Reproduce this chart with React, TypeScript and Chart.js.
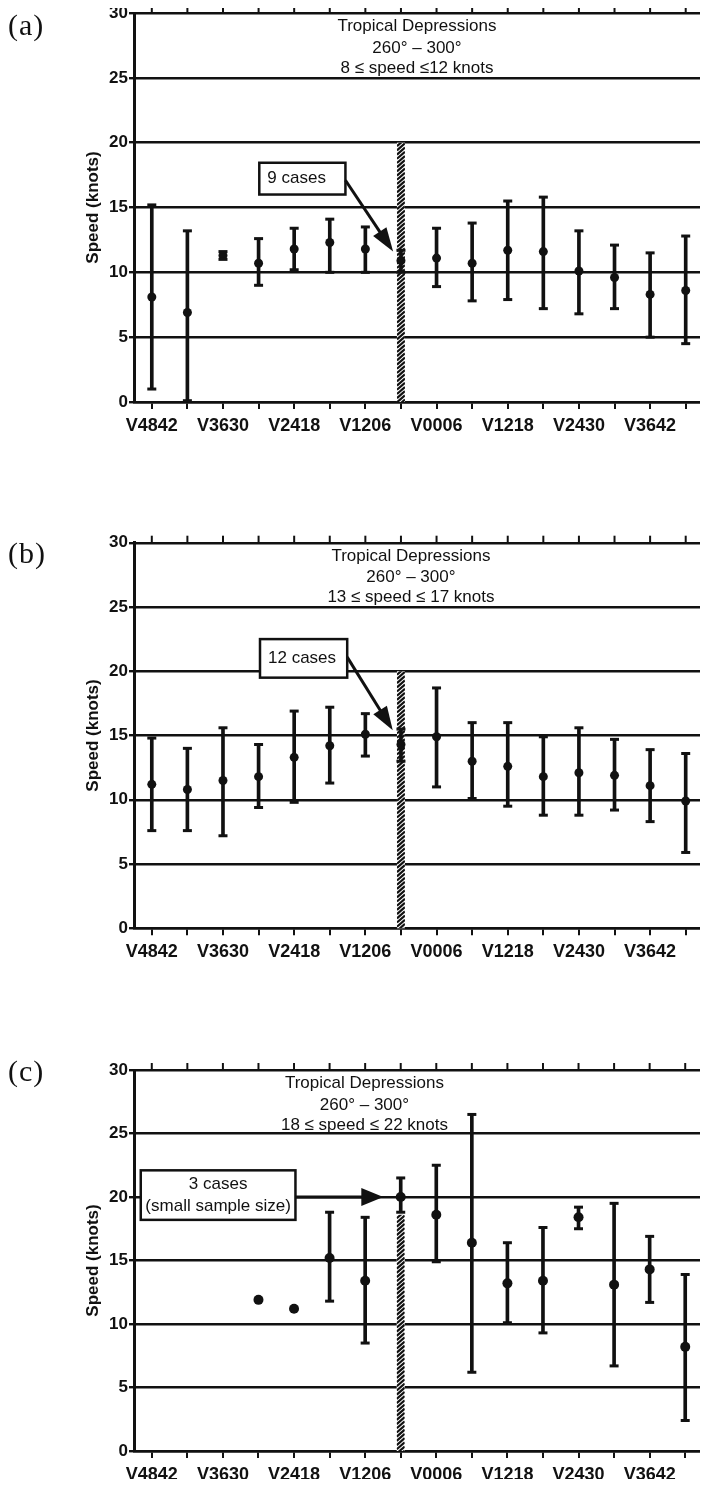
import React, { useEffect, useRef } from 'react';
import { Chart, registerables } from 'chart.js';

Chart.register(...registerables);

const FONT = '"Liberation Sans", Arial, Helvetica, sans-serif';
const SERIF = '"Liberation Serif", "Times New Roman", serif';
const INK = '#111';

// ---------- data ----------
const categories = [
  'V4842', 'V4236', 'V3630', 'V3024', 'V2418', 'V1812', 'V1206', 'V0600',
  'V0006', 'V0612', 'V1218', 'V1824', 'V2430', 'V3036', 'V3642', 'V4248',
];
const yTickValues = [0, 5, 10, 15, 20, 25, 30];
const yAxisTitle = 'Speed (knots)';
const titleLine1 = 'Tropical Depressions';
const titleLine2 = '260° – 300°';

// panel (a): 8 <= speed <= 12 knots
const meanA = [8.1, 6.9, 11.3, 10.7, 11.8, 12.3, 11.8, 10.9, 11.1, 10.7, 11.7, 11.6, 10.1, 9.6, 8.3, 8.6];
const highA = [15.2, 13.2, 11.6, 12.6, 13.4, 14.1, 13.5, 11.7, 13.4, 13.8, 15.5, 15.8, 13.2, 12.1, 11.5, 12.8];
const lowA = [1.0, 0.1, 11.0, 9.0, 10.2, 10.0, 10.0, 10.0, 8.9, 7.8, 7.9, 7.2, 6.8, 7.2, 5.0, 4.5];
const rangeA = '8 ≤ speed ≤12 knots';
const casesA = ['9 cases'];
const hatchTopA = 20;

// panel (b): 13 <= speed <= 17 knots
const meanB = [11.2, 10.8, 11.5, 11.8, 13.3, 14.2, 15.1, 14.3, 14.9, 13.0, 12.6, 11.8, 12.1, 11.9, 11.1, 9.9];
const highB = [14.8, 14.0, 15.6, 14.3, 16.9, 17.2, 16.7, 15.5, 18.7, 16.0, 16.0, 14.9, 15.6, 14.7, 13.9, 13.6];
const lowB = [7.6, 7.6, 7.2, 9.4, 9.8, 11.3, 13.4, 13.0, 11.0, 10.1, 9.5, 8.8, 8.8, 9.2, 8.3, 5.9];
const rangeB = '13 ≤ speed ≤ 17 knots';
const casesB = ['12 cases'];
const hatchTopB = 20;

// panel (c): 18 <= speed <= 22 knots
const meanC = [null, null, null, 11.9, 11.2, 15.2, 13.4, 20.0, 18.6, 16.4, 13.2, 13.4, 18.4, 13.1, 14.3, 8.2];
const highC = [null, null, null, null, null, 18.8, 18.4, 21.5, 22.5, 26.5, 16.4, 17.6, 19.2, 19.5, 16.9, 13.9];
const lowC = [null, null, null, null, null, 11.8, 8.5, 18.8, 14.9, 6.2, 10.1, 9.3, 17.5, 6.7, 11.7, 2.4];
const rangeC = '18 ≤ speed ≤ 22 knots';
const casesC = ['3 cases', '(small sample size)'];
const hatchTopC = 18.6;

const zeroHourIndex = 7;

type Num = number | null;
type Panel = {
  letter: string;
  letterBaseline: number;
  pageTop: number;
  height: number;
  top: number;
  bottom: number;
  mean: Num[];
  high: Num[];
  low: Num[];
  range: string;
  cases: string[];
  hatchTop: number;
  pointR: number;
  titleAt: number;
  box: { x0: number; x1: number; y0: number; y1: number; align: 'left' | 'center' };
  arrow: { from: [number, number]; to: [number, number]; len: number; half: number };
};

const panels: Panel[] = [
  {
    letter: '(a)', letterBaseline: 35, pageTop: 0, height: 470, top: 13, bottom: 402,
    mean: meanA, high: highA, low: lowA, range: rangeA, cases: casesA, hatchTop: hatchTopA, pointR: 4.5,
    titleAt: 7.45,
    box: { x0: 3.02, x1: 5.44, y0: 18.45, y1: 16.0, align: 'left' },
    arrow: { from: [5.44, 17.1], to: [6.78, 11.6], len: 24, half: 8 },
  },
  {
    letter: '(b)', letterBaseline: 563, pageTop: 520, height: 470, top: 22.7, bottom: 408.3,
    mean: meanB, high: highB, low: lowB, range: rangeB, cases: casesB, hatchTop: hatchTopB, pointR: 4.5,
    titleAt: 7.28,
    box: { x0: 3.04, x1: 5.49, y0: 22.5, y1: 19.5, align: 'left' },
    arrow: { from: [5.49, 21.1], to: [6.77, 15.4], len: 24, half: 8 },
  },
  {
    letter: '(c)', letterBaseline: 1081, pageTop: 1050, height: 437, top: 20, bottom: 401,
    mean: meanC, high: highC, low: lowC, range: rangeC, cases: casesC, hatchTop: hatchTopC, pointR: 5,
    titleAt: 5.98,
    box: { x0: -0.31, x1: 4.04, y0: 22.1, y1: 18.2, align: 'center' },
    arrow: { from: [4.04, 20], to: [6.51, 20], len: 22, half: 9 },
  },
];

function makeDecor(p: Panel) {
  return {
    id: 'decor',
    beforeDatasetsDraw(chart: any) {
      const ctx: CanvasRenderingContext2D = chart.ctx;
      const xs = chart.scales.x;
      const ys = chart.scales.y;
      const cx = xs.getPixelForValue(zeroHourIndex);
      const t = ys.getPixelForValue(p.hatchTop);
      const b = ys.getPixelForValue(0);
      ctx.save();
      ctx.fillStyle = '#fff';
      ctx.fillRect(cx - 4, t, 8, b - t);
      ctx.beginPath();
      ctx.rect(cx - 4, t, 8, b - t);
      ctx.clip();
      ctx.strokeStyle = INK;
      ctx.lineWidth = 2.2;
      for (let yy = t; yy < b + 8; yy += 4.2) {
        ctx.beginPath();
        ctx.moveTo(cx - 4, yy + 3.5);
        ctx.lineTo(cx + 4, yy - 3.5);
        ctx.stroke();
      }
      ctx.restore();
    },
    afterDatasetsDraw(chart: any) {
      const ctx: CanvasRenderingContext2D = chart.ctx;
      const xs = chart.scales.x;
      const ys = chart.scales.y;
      const area = chart.chartArea;
      ctx.save();
      // error bar caps
      ctx.strokeStyle = INK;
      ctx.lineWidth = 3;
      for (let i = 0; i < categories.length; i++) {
        const lo = p.low[i];
        const hi = p.high[i];
        if (lo == null || hi == null) continue;
        const x = xs.getPixelForValue(i);
        for (const v of [lo, hi]) {
          const y = ys.getPixelForValue(v);
          ctx.beginPath();
          ctx.moveTo(x - 4.5, y);
          ctx.lineTo(x + 4.5, y);
          ctx.stroke();
        }
      }
      // top ticks
      ctx.lineWidth = 2;
      for (let i = 0; i < categories.length; i++) {
        const x = xs.getPixelForValue(i);
        ctx.beginPath();
        ctx.moveTo(x, area.top);
        ctx.lineTo(x, area.top - 7);
        ctx.stroke();
      }
      // panel title
      ctx.fillStyle = INK;
      ctx.font = `17px ${FONT}`;
      ctx.textAlign = 'center';
      ctx.textBaseline = 'middle';
      const tx = xs.getPixelForValue(p.titleAt);
      [titleLine1, titleLine2, p.range].forEach((s, k) => {
        ctx.fillText(s, tx, area.top + [13.5, 35, 55][k]);
      });
      // annotation box
      const bx0 = xs.getPixelForValue(p.box.x0);
      const bx1 = xs.getPixelForValue(p.box.x1);
      const by0 = ys.getPixelForValue(p.box.y0);
      const by1 = ys.getPixelForValue(p.box.y1);
      ctx.fillStyle = '#fff';
      ctx.fillRect(bx0, by0, bx1 - bx0, by1 - by0);
      ctx.strokeStyle = INK;
      ctx.lineWidth = 2.5;
      ctx.strokeRect(bx0, by0, bx1 - bx0, by1 - by0);
      ctx.fillStyle = INK;
      ctx.font = `17px ${FONT}`;
      const n = p.cases.length;
      const midY = (by0 + by1) / 2;
      p.cases.forEach((s, k) => {
        const y = midY + (k - (n - 1) / 2) * 22;
        if (p.box.align === 'left') {
          ctx.textAlign = 'left';
          ctx.fillText(s, bx0 + 8, y);
        } else {
          ctx.textAlign = 'center';
          ctx.fillText(s, (bx0 + bx1) / 2, y);
        }
      });
      // arrow
      const ax0 = xs.getPixelForValue(p.arrow.from[0]);
      const ay0 = ys.getPixelForValue(p.arrow.from[1]);
      const ax1 = xs.getPixelForValue(p.arrow.to[0]);
      const ay1 = ys.getPixelForValue(p.arrow.to[1]);
      const ang = Math.atan2(ay1 - ay0, ax1 - ax0);
      const bxh = ax1 - Math.cos(ang) * p.arrow.len;
      const byh = ay1 - Math.sin(ang) * p.arrow.len;
      ctx.lineWidth = 3;
      ctx.beginPath();
      ctx.moveTo(ax0, ay0);
      ctx.lineTo(bxh + Math.cos(ang) * 2, byh + Math.sin(ang) * 2);
      ctx.stroke();
      ctx.beginPath();
      ctx.moveTo(ax1, ay1);
      ctx.lineTo(bxh - Math.sin(ang) * p.arrow.half, byh + Math.cos(ang) * p.arrow.half);
      ctx.lineTo(bxh + Math.sin(ang) * p.arrow.half, byh - Math.cos(ang) * p.arrow.half);
      ctx.closePath();
      ctx.fill();
      ctx.restore();
    },
  };
}

function PanelChart({ p }: { p: Panel }) {
  const ref = useRef<HTMLCanvasElement>(null);
  useEffect(() => {
    const canvas = ref.current;
    if (!canvas) return;
    const whiskers = p.low.map((lo, i) => {
      const hi = p.high[i];
      return lo == null || hi == null ? null : [lo, hi];
    });
    const chart = new Chart(canvas, {
      type: 'bar',
      data: {
        labels: categories,
        datasets: [
          {
            type: 'line',
            data: p.mean as any,
            showLine: false,
            pointRadius: p.pointR,
            pointHoverRadius: p.pointR,
            pointBackgroundColor: INK,
            pointBorderColor: INK,
            pointBorderWidth: 0,
            borderColor: INK,
          } as any,
          {
            type: 'bar',
            data: whiskers as any,
            backgroundColor: INK,
            borderWidth: 0,
            barThickness: 3,
          } as any,
        ],
      },
      options: {
        responsive: false,
        animation: false,
        events: [],
        layout: { padding: { left: 75, top: p.top, right: 0, bottom: 0 } },
        plugins: { legend: { display: false }, tooltip: { enabled: false } },
        scales: {
          x: {
            type: 'category',
            offset: true,
            grid: {
              display: true,
              drawOnChartArea: false,
              drawTicks: true,
              tickLength: 7,
              lineWidth: 2,
              color: INK,
              offset: false,
            },
            border: { display: true, width: 2.5, color: INK },
            ticks: {
              autoSkip: false,
              maxRotation: 0,
              minRotation: 0,
              padding: 6,
              color: INK,
              font: { family: FONT, size: 18, weight: 'bold' },
              callback: (_v: any, i: number) => (i % 2 === 0 ? categories[i] : ''),
            },
            afterFit: (s: any) => {
              s.height = p.height - p.bottom;
            },
          },
          y: {
            type: 'linear',
            min: 0,
            max: 30,
            afterBuildTicks: (s: any) => {
              s.ticks = yTickValues.map((v) => ({ value: v }));
            },
            grid: { color: INK, lineWidth: 2.4, tickLength: 5, drawTicks: true },
            border: { display: true, width: 3, color: INK },
            ticks: {
              padding: 1,
              color: INK,
              font: { family: FONT, size: 17, weight: 'bold' },
            },
            title: {
              display: true,
              text: yAxisTitle,
              color: INK,
              padding: 0,
              font: { family: FONT, size: 17, weight: 'bold' },
            },
            afterFit: (s: any) => {
              s.width = 51;
            },
          },
        },
      } as any,
      plugins: [makeDecor(p)],
    });
    return () => chart.destroy();
  }, [p]);
  return (
    <canvas
      ref={ref}
      width={700}
      height={p.height}
      style={{ position: 'absolute', left: 0, top: p.pageTop - 8, width: 700, height: p.height, display: 'block' }}
    />
  );
}

export default function App() {
  return (
    <div style={{ position: 'relative', width: 700, height: 1471, background: '#fff' }}>
      {panels.map((p) => (
        <PanelChart key={p.letter} p={p} />
      ))}
      {panels.map((p) => (
        <div
          key={'l' + p.letter}
          style={{
            position: 'absolute',
            left: 0,
            top: p.letterBaseline - 25.1 - 8,
            font: `30px ${SERIF}`,
            lineHeight: '30px',
            letterSpacing: '1px',
            color: INK,
            whiteSpace: 'nowrap',
          }}
        >
          {p.letter}
        </div>
      ))}
    </div>
  );
}
